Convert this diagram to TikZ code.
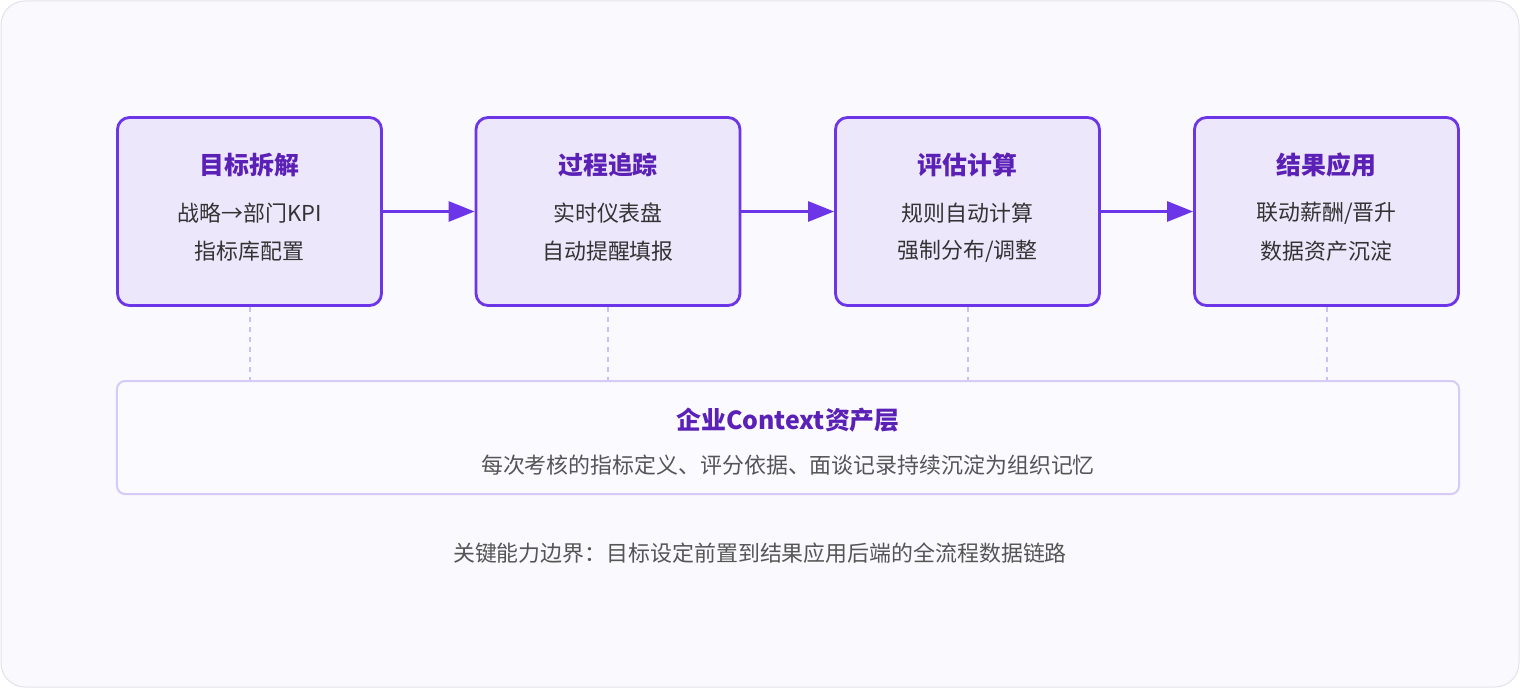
\documentclass[tikz,border=0pt]{standalone}
\usepackage{fontspec}
\setmainfont{Noto Sans CJK SC}
\usetikzlibrary{arrows.meta}
\definecolor{bgc}{HTML}{F9F9FE}
\definecolor{bgb}{HTML}{E2E2EC}
\definecolor{stepfill}{HTML}{EDE7FC}
\definecolor{stepb}{HTML}{6D35E8}
\definecolor{ttl}{HTML}{5B21B6}
\definecolor{txt}{HTML}{333333}
\definecolor{gtxt}{HTML}{555555}
\definecolor{layb}{HTML}{D6CBF6}
\definecolor{layf}{HTML}{FBFAFF}
\definecolor{dash}{HTML}{CDBFF5}
\newcommand\mkstep[5]{%
 \node[stepbox] (#1) at (#2,211.5) {};
 \node[ttlt] (#1t) at (#2,165) {#3};
 \node[bt] (#1a) at (#2,213) {#4};
 \node[bt] (#1b) at (#2,251) {#5};}
\begin{document}
\begin{tikzpicture}[x=1bp,y=-1bp,
 stepbox/.style={draw=stepb,line width=2.8bp,fill=stepfill,rounded corners=12bp,minimum width=264bp,minimum height=188bp,inner sep=0pt},
 ttlt/.style={text=ttl,font=\fontsize{25}{28}\selectfont\bfseries},
 bt/.style={text=txt,font=\fontsize{22}{26}\selectfont},
 arr/.style={draw=stepb,line width=2.8bp,-{Triangle[length=26bp,width=20bp]}},
 dl/.style={draw=dash,line width=2bp,dash pattern=on 5bp off 5bp}]
\path[use as bounding box] (0,0) rectangle (1520,690);
\draw[fill=bgc,draw=bgb,line width=1bp,rounded corners=24bp] (1,1) rectangle (1519,687);
\mkstep{s1}{249.5}{目标拆解}{战略→部门KPI}{指标库配置}
\mkstep{s2}{608}{过程追踪}{实时仪表盘}{自动提醒填报}
\mkstep{s3}{967.5}{评估计算}{规则自动计算}{强制分布/调整}
\mkstep{s4}{1326.5}{结果应用}{联动薪酬/晋升}{数据资产沉淀}
\draw[arr] (s1) -- (s2);
\draw[arr] (s2) -- (s3);
\draw[arr] (s3) -- (s4);
\node[draw=layb,line width=2bp,fill=layf,rounded corners=8bp,minimum width=1342bp,minimum height=113bp] (lay) at (788,437.5) {};
\node[ttlt] (layt) at (788,420) {企业Context资产层};
\node[text=gtxt,font=\fontsize{22}{26}\selectfont] (lays) at (788,465) {每次考核的指标定义、评分依据、面谈记录持续沉淀为组织记忆};
\foreach \n in {s1,s2,s3,s4}{\draw[dl] (\n.south) -- (\n.south |- lay.north);}
\node[text=gtxt,font=\fontsize{22}{26}\selectfont] (cap) at (760,553) {关键能力边界：目标设定前置到结果应用后端的全流程数据链路};
\end{tikzpicture}
\end{document}
